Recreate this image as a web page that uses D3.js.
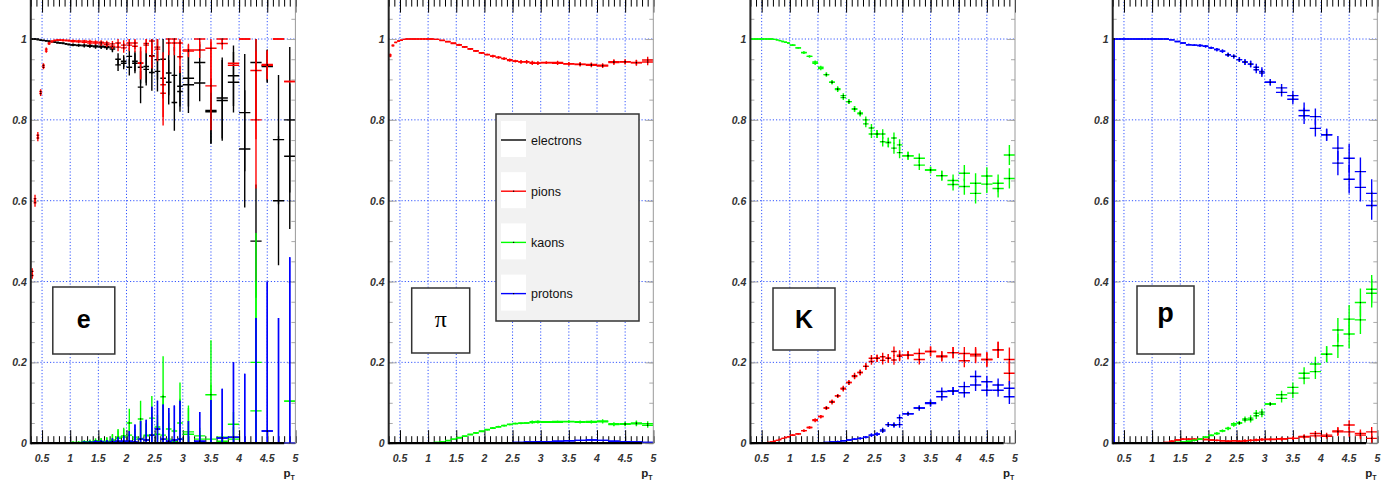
<!DOCTYPE html>
<html lang="en">
<head>
<meta charset="UTF-8">
<title>PID efficiency vs pT</title>
<script src="https://cdn.jsdelivr.net/npm/d3@7"></script>
<style>
    body { margin: 0; background: #fff; }
    svg { display: block; font-family: "Liberation Sans", Arial, sans-serif; }
    .ticklab { font-size: 10.5px; font-style: italic; font-weight: bold; fill: #333; }
</style>
</head>
<body>
<div id="output"></div>
<script>

// bin edges in pT (variable binning)
var binEdges = [0.3, 0.35, 0.4, 0.45, 0.5, 0.55, 0.6, 0.65, 0.7, 0.75, 0.8, 0.85, 0.9, 0.95, 1.0,
    1.1, 1.2, 1.3, 1.4, 1.5, 1.6, 1.7, 1.8, 1.9, 2.0, 2.1, 2.2, 2.3, 2.4, 2.5, 2.6, 2.7, 2.8, 2.9, 3.0,
    3.2, 3.4, 3.6, 3.8, 4.0, 4.2, 4.4, 4.6, 4.8, 5.0];

var xTickLabels = [0.5, 1, 1.5, 2, 2.5, 3, 3.5, 4, 4.5, 5];
var yTickLabels = [0, 0.2, 0.4, 0.6, 0.8, 1];
var speciesNames = ["electrons", "pions", "kaons", "protons"];
var speciesColors = ["#000000", "#ff0000", "#00ff00", "#0000ff"];

var zeros = [0,0,0,0,0,0,0,0,0,0,0,0,0,0, 0,0,0,0,0,0,0,0,0,0, 0,0,0,0,0,0,0,0,0,0, 0,0,0,0,0,0,0,0,0,0];

// ---- panel "e" ----
var eElecA = [1.0,1.0,1.0,0.998,0.997,0.996,0.995,0.994,0.993,0.992,0.99,0.99,0.988,0.987,
    0.986,0.985,0.985,0.984,0.983,0.982,0.981,0.978,0.950,0.940,
    0.957,0.940,0.881,0.932,0.959,0.949,0.903,0.916,0.843,0.883,
    0.903,0.942,0.823,0.854,0.909,0.818,0.942,0.934,0.751,0.800];
var eElecB = [1.0,1.0,0.998,0.997,0.996,0.995,0.994,0.993,0.992,0.99,0.99,0.989,0.988,0.986,
    0.985,0.984,0.983,0.982,0.981,0.98,0.979,0.975,0.936,0.945,
    0.93,0.945,0.93,0.925,0.917,0.92,0.95,0.893,0.91,0.87,
    0.887,0.891,0.82,0.848,0.893,0.728,0.50,0.932,0.600,0.710];
var eElecErr = [0.001,0.001,0.001,0.001,0.001,0.001,0.001,0.001,0.001,0.001,0.002,0.002,0.002,0.002,
    0.003,0.003,0.004,0.004,0.005,0.005,0.006,0.008,0.015,0.015,
    0.02,0.025,0.04,0.04,0.045,0.05,0.05,0.055,0.07,0.05,
    0.07,0.045,0.08,0.1,0.075,0.145,0.14,0.04,0.16,0.18];

var ePionA = [0.425,0.605,0.762,0.87,0.935,0.975,0.99,0.995,0.997,0.998,0.998,0.998,0.997,0.997,
    0.996,0.995,0.995,0.994,0.993,0.992,0.99,0.988,0.99,0.985,
    0.99,0.99,0.941,0.989,0.995,0.975,0.887,0.99,0.99,0.99,
    0.973,0.973,0.977,0.989,0.935,1.0,0.922,0.937,1.0,0.895];
var ePionB = [0.415,0.595,0.755,0.865,0.93,0.97,0.988,0.993,0.996,0.997,0.997,0.996,0.996,0.995,
    0.994,0.993,0.992,0.99,0.99,0.988,0.986,0.982,0.98,0.978,
    0.985,0.982,0.94,0.985,0.957,0.98,0.866,1.0,1.0,0.956,
    0.97,1.0,0.884,1.0,0.94,1.0,0.80,0.935,1.0,0.895];
var ePionErr = [0.008,0.01,0.008,0.006,0.005,0.004,0.003,0.002,0.002,0.002,0.002,0.002,0.002,0.002,
    0.003,0.003,0.003,0.004,0.004,0.005,0.006,0.007,0.01,0.012,
    0.015,0.015,0.04,0.02,0.03,0.03,0.08,0.03,0.03,0.04,
    0.015,0.02,0.11,0.015,0,0,0.17,0.035,0,0];

var eKaonA = [0,0,0,0,0,0,0,0,0,0.001,0,0.001,0,0.001,
    0.002,0.001,0.004,0.003,0.006,0.004,0.005,0.008,0.012,0.015,
    0.05,0.015,0.06,0.02,0.062,0.022,0.115,0.035,0.005,0.05,
    0.028,0.018,0.12,0.005,0.047,0,0.2,0,0,0.104];
var eKaonB = [0,0,0,0,0,0,0,0,0,0,0.001,0,0.001,0,
    0.001,0.002,0.002,0.004,0.003,0.005,0.004,0.006,0.015,0.018,
    0.02,0.01,0.012,0.018,0.02,0.04,0.02,0.01,0.03,0.01,
    0.022,0.01,0.01,0.015,0.01,0,0.08,0,0,0.104];
var eKaonErr = [0,0,0,0,0,0,0,0,0,0.001,0.001,0.001,0.001,0.001,
    0.003,0.003,0.004,0.005,0.006,0.008,0.01,0.015,0.02,0.02,
    0.035,0.02,0.045,0.03,0.055,0.03,0.1,0.04,0.005,0.1,
    0.065,0.02,0.135,0.01,0.03,0,0.32,0,0,0];

var eProtA = [0,0,0,0,0,0,0,0,0,0,0,0,0,0,
    0.001,0.001,0.002,0.002,0.003,0.003,0.002,0.004,0.005,0.005,
    0.005,0.003,0.01,0.008,0.02,0.035,0.01,0.005,0.008,0.01,
    0,0.005,0,0.013,0.015,0,0,0.03,0,0];
var eProtErr = [0,0,0,0,0,0,0,0,0,0,0,0,0,0,
    0.002,0.002,0.003,0.003,0.004,0.005,0.006,0.008,0.01,0.012,
    0.025,0.043,0.045,0.05,0.07,0.07,0.086,0.082,0.085,0.095,
    0.055,0.072,0.107,0.122,0.186,0.172,0.31,0.37,0.31,0.46];

// ---- panel "pi" ----
var piPionA = [0.961,0.985,0.992,0.995,0.997,0.999,1.0,1.0,1.0,1.0,1.0,1.0,1.0,1.0,
    1.0,0.999,0.997,0.994,0.99,0.986,0.981,0.976,0.971,0.966,
    0.962,0.958,0.955,0.952,0.949,0.946,0.944,0.943,0.942,0.941,
    0.942,0.942,0.939,0.938,0.937,0.935,0.944,0.944,0.942,0.948];
var piPionB = [0.958,0.983,0.991,0.995,0.997,0.999,1.0,1.0,1.0,1.0,1.0,1.0,1.0,1.0,
    1.0,0.999,0.996,0.993,0.989,0.985,0.98,0.975,0.97,0.965,
    0.961,0.957,0.954,0.951,0.947,0.945,0.943,0.944,0.94,0.94,
    0.941,0.94,0.938,0.937,0.935,0.933,0.942,0.943,0.941,0.943];
var piPionErr = [0.003,0.002,0.001,0.001,0.001,0.001,0.001,0.001,0.001,0.001,0.001,0.001,0.001,0.001,
    0.001,0.001,0.001,0.001,0.002,0.002,0.002,0.002,0.002,0.002,
    0.002,0.003,0.003,0.003,0.003,0.003,0.004,0.004,0.004,0.004,
    0.003,0.004,0.004,0.005,0.005,0.005,0.006,0.006,0.007,0.008];

var piKaonA = [0,0,0,0,0,0,0,0,0,0,0,0,0,0,
    0.001,0.002,0.004,0.007,0.01,0.014,0.018,0.022,0.026,0.03,
    0.034,0.038,0.041,0.044,0.047,0.049,0.05,0.05,0.053,0.054,
    0.053,0.054,0.053,0.053,0.054,0.055,0.048,0.048,0.05,0.048];
var piKaonB = [0,0,0,0,0,0,0,0,0,0,0,0,0,0,
    0.001,0.002,0.004,0.006,0.01,0.013,0.017,0.021,0.025,0.029,
    0.033,0.037,0.04,0.043,0.046,0.048,0.049,0.05,0.051,0.052,
    0.052,0.052,0.054,0.052,0.052,0.053,0.046,0.047,0.048,0.044];
var piKaonErr = [0,0,0,0,0,0,0,0,0,0,0,0,0,0,
    0.001,0.001,0.001,0.001,0.001,0.001,0.001,0.001,0.002,0.002,
    0.002,0.002,0.002,0.002,0.002,0.002,0.002,0.002,0.003,0.003,
    0.002,0.002,0.003,0.003,0.003,0.004,0.004,0.005,0.006,0.006];

var piProtA = [0,0,0,0,0,0,0,0,0,0,0,0,0,0,
    0,0,0,0,0,0,0,0,0,0,
    0,0,0,0,0.001,0.002,0.002,0.003,0.003,0.004,
    0.004,0.005,0.006,0.007,0.008,0.007,0.005,0.004,0.003,0.002];
var piProtErr = [0,0,0,0,0,0,0,0,0,0,0,0,0,0,
    0,0,0,0,0,0,0,0,0,0,
    0,0,0,0,0.001,0.001,0.001,0.001,0.001,0.001,
    0.001,0.001,0.001,0.001,0.001,0.001,0.001,0.001,0.001,0.001];

// ---- panel "K" ----
var kKaonA = [1.0,1.0,1.0,1.0,1.0,1.0,1.0,1.0,0.999,0.998,0.996,0.994,0.992,0.99,
    0.985,0.978,0.967,0.957,0.943,0.93,0.912,0.893,0.877,0.86,
    0.845,0.827,0.817,0.80,0.78,0.765,0.765,0.744,0.755,0.738,
    0.711,0.705,0.676,0.662,0.65,0.668,0.643,0.661,0.63,0.713];
var kKaonB = [1.0,1.0,1.0,1.0,1.0,1.0,1.0,1.0,0.999,0.998,0.996,0.994,0.992,0.99,
    0.985,0.978,0.966,0.957,0.94,0.927,0.912,0.893,0.875,0.855,
    0.845,0.827,0.815,0.79,0.765,0.765,0.746,0.744,0.73,0.719,
    0.711,0.688,0.676,0.662,0.64,0.635,0.618,0.641,0.643,0.655];
var kKaonErr = [0.001,0.001,0.001,0.001,0.001,0.001,0.001,0.001,0.001,0.001,0.001,0.001,0.001,0.001,
    0.002,0.002,0.003,0.003,0.004,0.004,0.005,0.005,0.006,0.006,
    0.006,0.007,0.007,0.008,0.01,0.01,0.012,0.012,0.014,0.014,
    0.01,0.012,0.008,0.012,0.015,0.02,0.025,0.022,0.022,0.025];

var kPionA = [0,0,0,0,0,0.001,0.002,0.003,0.005,0.007,0.009,0.012,0.014,0.016,
    0.02,0.023,0.031,0.039,0.056,0.066,0.087,0.103,0.117,0.136,
    0.15,0.167,0.175,0.19,0.21,0.21,0.214,0.21,0.227,0.218,
    0.218,0.222,0.227,0.216,0.224,0.222,0.216,0.207,0.231,0.207];
var kPionB = [0,0,0,0,0,0.001,0.002,0.003,0.005,0.007,0.009,0.012,0.014,0.016,
    0.02,0.023,0.031,0.039,0.058,0.066,0.087,0.101,0.117,0.134,
    0.15,0.165,0.175,0.19,0.202,0.21,0.205,0.21,0.206,0.215,
    0.218,0.207,0.227,0.214,0.224,0.204,0.22,0.207,0.231,0.173];
var kPionErr = [0.001,0.001,0.001,0.001,0.001,0.001,0.001,0.001,0.001,0.001,0.001,0.001,0.001,0.001,
    0.002,0.002,0.003,0.003,0.004,0.004,0.005,0.005,0.005,0.006,
    0.006,0.007,0.007,0.008,0.008,0.009,0.01,0.011,0.012,0.012,
    0.01,0.012,0.012,0.012,0.014,0.016,0.018,0.018,0.02,0.03];

var kProtA = [0,0,0,0,0,0,0,0,0,0,0,0,0,0,
    0,0,0,0,0.001,0.001,0.002,0.003,0.004,0.006,
    0.008,0.01,0.012,0.015,0.02,0.023,0.033,0.046,0.044,0.063,
    0.073,0.087,0.1,0.128,0.129,0.14,0.165,0.152,0.144,0.136];
var kProtB = [0,0,0,0,0,0,0,0,0,0,0,0,0,0,
    0,0,0,0,0.001,0.001,0.002,0.003,0.004,0.006,
    0.008,0.01,0.012,0.015,0.02,0.022,0.03,0.046,0.046,0.046,
    0.073,0.087,0.098,0.115,0.129,0.125,0.144,0.131,0.131,0.115];
var kProtErr = [0,0,0,0,0,0,0,0,0,0,0,0,0,0,
    0.001,0.001,0.001,0.001,0.001,0.001,0.001,0.001,0.002,0.002,
    0.002,0.002,0.003,0.003,0.004,0.004,0.005,0.006,0.006,0.008,
    0.005,0.006,0.008,0.01,0.01,0.012,0.015,0.015,0.016,0.018];

// ---- panel "p" ----
var pProtA = [1.0,1.0,1.0,1.0,1.0,1.0,1.0,1.0,1.0,1.0,1.0,1.0,1.0,1.0,
    1.0,1.0,1.0,0.998,0.994,0.99,0.986,0.985,0.984,0.982,
    0.978,0.974,0.97,0.961,0.957,0.949,0.943,0.938,0.93,0.92,
    0.893,0.879,0.86,0.823,0.808,0.763,0.73,0.705,0.672,0.618];
var pProtB = [1.0,1.0,1.0,1.0,1.0,1.0,1.0,1.0,1.0,1.0,1.0,1.0,1.0,1.0,
    1.0,1.0,1.0,0.998,0.994,0.99,0.986,0.985,0.984,0.982,
    0.978,0.974,0.97,0.961,0.957,0.949,0.943,0.938,0.924,0.916,
    0.893,0.868,0.851,0.81,0.779,0.763,0.693,0.653,0.633,0.588];
var pProtErr = [1.0,0,0,0,0,0,0,0,0,0,0,0,0,0,
    0.001,0.001,0.001,0.001,0.002,0.002,0.002,0.002,0.003,0.003,
    0.003,0.004,0.004,0.005,0.005,0.006,0.007,0.008,0.009,0.01,
    0.008,0.01,0.012,0.02,0.02,0.015,0.03,0.035,0.035,0.035];

var pKaonA = [0,0,0,0,0,0,0,0,0,0,0,0,0,0,
    0,0,0,0.001,0.002,0.003,0.005,0.007,0.01,0.015,
    0.019,0.024,0.031,0.037,0.045,0.05,0.06,0.062,0.074,0.072,
    0.097,0.12,0.138,0.173,0.196,0.22,0.28,0.307,0.348,0.381];
var pKaonB = [0,0,0,0,0,0,0,0,0,0,0,0,0,0,
    0,0,0,0.001,0.002,0.003,0.005,0.007,0.01,0.015,
    0.02,0.024,0.03,0.036,0.048,0.05,0.057,0.058,0.068,0.077,
    0.097,0.111,0.124,0.161,0.177,0.22,0.241,0.27,0.305,0.371];
var pKaonErr = [0,0,0,0,0,0,0,0,0,0,0,0,0,0,
    0.001,0.001,0.001,0.001,0.001,0.001,0.001,0.002,0.002,0.002,
    0.002,0.003,0.003,0.004,0.004,0.005,0.006,0.007,0.008,0.008,
    0.005,0.01,0.012,0.015,0.018,0.02,0.03,0.035,0.035,0.035];

var pPionA = [0,0,0,0,0,0,0,0,0,0,0,0,0,0,
    0,0,0.002,0.005,0.008,0.01,0.01,0.01,0.01,0.009,
    0.008,0.007,0.006,0.005,0.006,0.005,0.006,0.007,0.008,0.009,
    0.01,0.011,0.012,0.017,0.024,0.02,0.028,0.045,0.024,0.028];
var pPionB = [0,0,0,0,0,0,0,0,0,0,0,0,0,0,
    0,0,0.002,0.005,0.008,0.01,0.01,0.01,0.01,0.009,
    0.008,0.007,0.006,0.005,0.006,0.005,0.006,0.007,0.008,0.009,
    0.009,0.01,0.012,0.015,0.018,0.017,0.03,0.028,0.02,0.012];
var pPionErr = [0,0,0,0,0,0,0,0,0,0,0,0,0,0,
    0.001,0.001,0.001,0.002,0.002,0.002,0.002,0.002,0.002,0.002,
    0.002,0.002,0.002,0.002,0.002,0.002,0.003,0.003,0.003,0.003,
    0.003,0.004,0.004,0.005,0.006,0.006,0.01,0.012,0.01,0.012];

// panel layout (pixel positions of each pad frame)
var panels = [
    { name: "e",  left: 30.8,  box: [22, 287, 62, 67], text: "e",  font: "bold 25px 'Liberation Sans', Arial", ty: 328,
      series: [[eElecA, eElecB, eElecErr], [ePionA, ePionB, ePionErr], [eKaonA, eKaonB, eKaonErr], [eProtA, eProtA, eProtErr]] },
    { name: "pi", left: 388.7, box: [23, 288, 58, 65], text: "\u03c0", font: "24px 'Liberation Serif', serif", ty: 327,
      series: [[zeros, zeros, zeros], [piPionA, piPionB, piPionErr], [piKaonA, piKaonB, piKaonErr], [piProtA, piProtA, piProtErr]] },
    { name: "K",  left: 750.4, box: [22.6, 288, 62, 62], text: "K",  font: "bold 25px 'Liberation Sans', Arial", ty: 328,
      series: [[zeros, zeros, zeros], [kPionA, kPionB, kPionErr], [kKaonA, kKaonB, kKaonErr], [kProtA, kProtB, kProtErr]] },
    { name: "p",  left: 1112.7, box: [24.3, 286, 57, 68], text: "p",  font: "bold 27px 'Liberation Sans', Arial", ty: 322,
      series: [[zeros, zeros, zeros], [pPionA, pPionB, pPionErr], [pKaonA, pKaonB, pKaonErr], [pProtA, pProtB, pProtErr]] }
];

var w = 1399;
var h = 486;
var panelW = 264.6;
var yTop = -1.4;
var yBot = 443.2;
var gridColor = "#3355ff";

var svg = d3.select("#output")
    .append("svg")
    .attr("width", w)
    .attr("height", h);

var yScale = d3.scaleLinear()
    .domain([0, 1.1])
    .range([yBot, yTop]);

var xMinor = d3.range(3, 51).map(function(d){ return d / 10; });
var yMinor = d3.range(0, 23).map(function(d){ return d * 0.05; });

panels.forEach(function(p, pi) {
    var x0 = p.left, x1 = p.left + panelW;
    var xScale = d3.scaleLinear()
        .domain([binEdges[0], binEdges[binEdges.length - 1]])
        .range([x0, x1]);

    var g = svg.append("g").attr("class", "panel-" + p.name);

    // grid
    g.selectAll(".gx").data(xTickLabels.slice(0, -1)).enter().append("line")
        .attr("x1", function(d){ return xScale(d); })
        .attr("x2", function(d){ return xScale(d); })
        .attr("y1", yTop).attr("y2", yBot)
        .attr("stroke", gridColor).attr("stroke-width", 1)
        .attr("stroke-dasharray", "1.2,2");
    g.selectAll(".gy").data(yTickLabels.slice(1)).enter().append("line")
        .attr("x1", x0).attr("x2", x1)
        .attr("y1", function(d){ return yScale(d); })
        .attr("y2", function(d){ return yScale(d); })
        .attr("stroke", gridColor).attr("stroke-width", 1)
        .attr("stroke-dasharray", "1.2,2");

    // y ticks, gray, on both sides
    var yAxisL = g.append("g").attr("transform", "translate(" + x0 + ",0)")
        .call(d3.axisRight(yScale).tickValues(yMinor).tickSize(4).tickFormat(""));
    var yAxisLM = g.append("g").attr("transform", "translate(" + x0 + ",0)")
        .call(d3.axisRight(yScale).tickValues(yTickLabels).tickSize(8).tickFormat(""));
    var yAxisR = g.append("g").attr("transform", "translate(" + x1 + ",0)")
        .call(d3.axisLeft(yScale).tickValues(yMinor).tickSize(4).tickFormat(""));
    var yAxisRM = g.append("g").attr("transform", "translate(" + x1 + ",0)")
        .call(d3.axisLeft(yScale).tickValues(yTickLabels).tickSize(8).tickFormat(""));
    [yAxisL, yAxisLM, yAxisR, yAxisRM].forEach(function(a){
        a.select(".domain").remove();
        a.selectAll("line").attr("stroke", "#aaaaaa");
    });

    // x ticks, black, bottom and top
    var xb = g.append("g").attr("transform", "translate(0," + yBot + ")")
        .call(d3.axisTop(xScale).tickValues(xMinor).tickSize(7).tickFormat(""));
    var xbM = g.append("g").attr("transform", "translate(0," + yBot + ")")
        .call(d3.axisTop(xScale).tickValues(xTickLabels).tickSize(13).tickFormat(""));
    var xt = g.append("g").attr("transform", "translate(0," + yTop + ")")
        .call(d3.axisBottom(xScale).tickValues(xMinor).tickSize(8).tickFormat(""));
    var xtM = g.append("g").attr("transform", "translate(0," + yTop + ")")
        .call(d3.axisBottom(xScale).tickValues(xTickLabels).tickSize(14).tickFormat(""));
    [xb, xbM, xt, xtM].forEach(function(a){
        a.select(".domain").remove();
        a.selectAll("line").attr("stroke", "#000").attr("stroke-width", 1);
    });

    // data
    var clipId = "clip" + pi;
    g.append("clipPath").attr("id", clipId).append("rect")
        .attr("x", x0).attr("y", yTop).attr("width", panelW).attr("height", yBot - yTop + 1);
    var dataLayer = g.append("g").attr("clip-path", "url(#" + clipId + ")");

    p.series.forEach(function(s, si) {
        var color = speciesColors[si];
        var pts = [];
        [s[0], s[1]].forEach(function(vals) {
            vals.forEach(function(v, i) {
                var e = s[2][i];
                if (v === 0 && e === 0) return;
                pts.push({ lo: binEdges[i], hi: binEdges[i + 1], c: (binEdges[i] + binEdges[i + 1]) / 2, v: v, e: e });
            });
        });
        dataLayer.append("g").selectAll("path").data(pts).enter().append("path")
            .attr("d", function(d){
                var yv = yScale(d.v);
                var path = "M" + xScale(d.lo) + "," + yv + "H" + xScale(d.hi);
                // efficiencies: error bars bounded to [0, 1]
                if (d.e > 0) path += "M" + xScale(d.c) + "," + yScale(Math.max(0, d.v - d.e)) +
                    "V" + yScale(Math.min(1, d.v + d.e));
                return path;
            })
            .attr("fill", "none")
            .attr("stroke", color)
            .attr("stroke-width", 1.4);
        if (si > 0) {
            dataLayer.append("g").selectAll("rect").data(pts.filter(function(d){ return d.e > 0.004; })).enter().append("rect")
                .attr("x", function(d){ return xScale(d.c) - 0.6; })
                .attr("y", function(d){ return yScale(d.v) - 0.6; })
                .attr("width", 1.2).attr("height", 1.2)
                .attr("fill", "#000");
        }
    });

    // frame
    g.append("line").attr("x1", x0).attr("x2", x0).attr("y1", yTop).attr("y2", yBot + 1)
        .attr("stroke", "#222").attr("stroke-width", 2);
    g.append("line").attr("x1", x1).attr("x2", x1).attr("y1", yTop).attr("y2", yBot)
        .attr("stroke", "#999").attr("stroke-width", 1);
    g.append("line").attr("x1", x0).attr("x2", x1).attr("y1", yTop).attr("y2", yTop)
        .attr("stroke", "#000").attr("stroke-width", 1);
    g.append("line").attr("x1", x0).attr("x2", xScale(4.8)).attr("y1", yBot).attr("y2", yBot)
        .attr("stroke", "#000").attr("stroke-width", 2.2);
    g.append("line").attr("x1", xScale(4.8)).attr("x2", x1).attr("y1", yBot).attr("y2", yBot)
        .attr("stroke", "#666").attr("stroke-width", 1);

    // tick labels
    g.selectAll(".xl").data(xTickLabels).enter().append("text")
        .attr("class", "ticklab")
        .attr("x", function(d){ return xScale(d); })
        .attr("y", 462)
        .attr("text-anchor", "middle")
        .text(function(d){ return String(d); });
    g.selectAll(".yl").data(yTickLabels).enter().append("text")
        .attr("class", "ticklab")
        .attr("x", x0 - 4)
        .attr("y", function(d){ return yScale(d) + 4; })
        .attr("text-anchor", "end")
        .text(function(d){ return String(d); });

    // axis title p_T
    var t = g.append("text")
        .attr("x", x1 - 12).attr("y", 477)
        .style("font-size", "11.5px").style("font-weight", "bold").attr("fill", "#222");
    t.append("tspan").text("p");
    t.append("tspan").attr("dy", 3).style("font-size", "7px").text("T");

    // particle label box
    g.append("rect")
        .attr("x", x0 + p.box[0]).attr("y", p.box[1])
        .attr("width", p.box[2]).attr("height", p.box[3])
        .attr("fill", "#fff").attr("stroke", "#333").attr("stroke-width", 1.5);
    g.append("text")
        .attr("x", x0 + p.box[0] + p.box[2] / 2).attr("y", p.ty)
        .attr("text-anchor", "middle")
        .style("font", p.font)
        .attr("fill", "#000")
        .text(p.text);

    // legend in the second pad
    if (pi === 1) {
        var lg = g.append("g");
        lg.append("rect")
            .attr("x", 496).attr("y", 114).attr("width", 143).attr("height", 207)
            .attr("fill", "#f2f2f2").attr("stroke", "#333").attr("stroke-width", 1.5);
        var entries = lg.selectAll(".entry").data(speciesNames).enter().append("g")
            .attr("transform", function(d, i){ return "translate(0," + (140 + i * 51.2) + ")"; });
        entries.append("rect")
            .attr("x", 501).attr("y", -19).attr("width", 25).attr("height", 36)
            .attr("fill", "#fff");
        entries.append("line")
            .attr("x1", 501).attr("x2", 526).attr("y1", 0).attr("y2", 0)
            .attr("stroke", function(d, i){ return speciesColors[i]; })
            .attr("stroke-width", 1.4);
        entries.filter(function(d, i){ return i > 0; }).append("rect")
            .attr("x", 513).attr("y", -0.6).attr("width", 1.2).attr("height", 1.2).attr("fill", "#000");
        entries.append("text")
            .attr("x", 531).attr("y", 4.5)
            .style("font-size", "12.5px").attr("fill", "#111")
            .text(function(d){ return d; });
    }
});

</script>
</body>
</html>
